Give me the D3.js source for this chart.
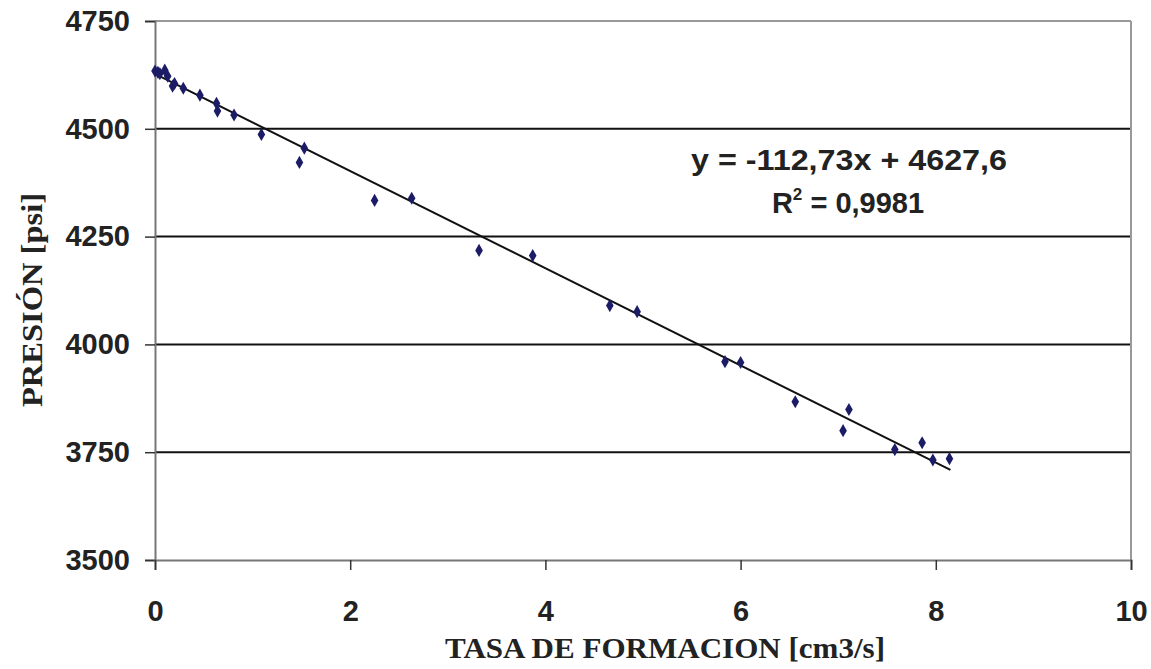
<!DOCTYPE html>
<html><head><meta charset="utf-8">
<script src="https://cdn.jsdelivr.net/npm/d3@7"></script>
<style>body{margin:0;background:#fff}svg{display:block}</style>
</head><body>
<svg id="c" width="1151" height="669"></svg>
<script>
const xVals = [0.00, 0.03, 0.05, 0.10, 0.13, 0.18, 0.20, 0.29, 0.46, 0.63, 0.64, 0.81, 1.09, 1.53, 1.48, 2.25, 2.63, 3.32, 3.87, 4.66, 4.94, 5.84, 6.00, 6.56, 7.11, 7.05, 7.58, 7.86, 7.97, 8.14];
const yVals = [4634, 4631, 4628, 4636, 4622, 4599, 4605, 4594, 4578, 4559, 4541, 4532, 4487, 4455, 4422, 4334, 4339, 4218, 4206, 4090, 4076, 3960, 3958, 3867, 3849, 3800, 3756, 3772, 3732, 3735];
const xTicks = [0, 2, 4, 6, 8, 10];
const yTicks = [3500, 3750, 4000, 4250, 4500, 4750];
const slope = -112.73, intercept = 4627.6;
const trendX = [0, 8.15];
const eqText = "y = -112,73x + 4627,6";
const r2Text = "0,9981";
const xTitle = "TASA DE FORMACION [cm3/s]";
const yTitle = "PRESIÓN [psi]";

const svg = d3.select("#c");
const L = 155, R = 1131, T = 21, B = 560;
const x = d3.scaleLinear().domain([0, 10]).range([L, R]);
const y = d3.scaleLinear().domain([3500, 4750]).range([B, T]);

// gridlines
svg.append("g").selectAll("line").data(yTicks.filter(t => t > 3500 && t < 4750)).join("line")
  .attr("x1", L).attr("x2", R).attr("y1", d => y(d)).attr("y2", d => y(d))
  .attr("stroke", "#111").attr("stroke-width", 2);
// top border & right border
svg.append("line").attr("x1", L).attr("x2", R).attr("y1", T).attr("y2", T).attr("stroke", "#999").attr("stroke-width", 2);
svg.append("line").attr("x1", R).attr("x2", R).attr("y1", T).attr("y2", B).attr("stroke", "#999").attr("stroke-width", 2);

// axes
const yAxis = svg.append("g").attr("transform", `translate(${L},0)`)
  .call(d3.axisLeft(y).tickValues(yTicks).tickSize(10).tickPadding(15).tickFormat(d3.format("d")));
const xAxis = svg.append("g").attr("transform", `translate(0,${B})`)
  .call(d3.axisBottom(x).tickValues(xTicks).tickSize(10).tickPadding(30).tickFormat(d3.format("d")));
[yAxis, xAxis].forEach(g => {
  g.select(".domain").attr("stroke", "#777").attr("stroke-width", 2);
  g.selectAll(".tick line").attr("stroke", "#333").attr("stroke-width", 1.5);
  g.selectAll("text").attr("font-family", "Liberation Sans, Arial, sans-serif")
    .attr("font-weight", "bold").attr("font-size", 29).attr("fill", "#222");
});

// trend line
svg.append("line")
  .attr("x1", x(trendX[0])).attr("y1", y(intercept + slope * trendX[0]))
  .attr("x2", x(trendX[1])).attr("y2", y(intercept + slope * trendX[1]))
  .attr("stroke", "#111").attr("stroke-width", 2);

// points (diamonds)
const pts = xVals.map((v, i) => [v, yVals[i]]);
const sym = d3.symbol().type(d3.symbolDiamond).size(50);
svg.append("g").selectAll("path").data(pts).join("path")
  .attr("d", sym).attr("transform", d => `translate(${x(d[0])},${y(d[1])})`)
  .attr("fill", "#1c1c66");

// equation
const eq = svg.append("g").attr("font-family", "Liberation Sans, Arial, sans-serif")
  .attr("font-weight", "bold").attr("fill", "#222").attr("text-anchor", "middle");
eq.append("text").attr("x", 849).attr("y", 170).attr("font-size", 29)
  .attr("textLength", 316).attr("lengthAdjust", "spacingAndGlyphs").text(eqText);
const r2 = eq.append("text").attr("x", 848).attr("y", 213).attr("font-size", 29);
r2.append("tspan").text("R");
r2.append("tspan").attr("font-size", 17).attr("dy", -13).text("2");
r2.append("tspan").attr("dy", 13).text(" = " + r2Text);

// titles
svg.append("text").attr("x", 665).attr("y", 658).attr("text-anchor", "middle")
  .attr("font-family", "Liberation Serif, Times New Roman, serif").attr("font-weight", "bold")
  .attr("font-size", 29).attr("textLength", 440).attr("lengthAdjust", "spacingAndGlyphs")
  .attr("fill", "#222").text(xTitle);
svg.append("text").attr("transform", "translate(42,300) rotate(-90)").attr("text-anchor", "middle")
  .attr("font-family", "Liberation Serif, Times New Roman, serif").attr("font-weight", "bold")
  .attr("font-size", 30).attr("textLength", 214).attr("lengthAdjust", "spacingAndGlyphs")
  .attr("fill", "#222").text(yTitle);
</script>
</body></html>
